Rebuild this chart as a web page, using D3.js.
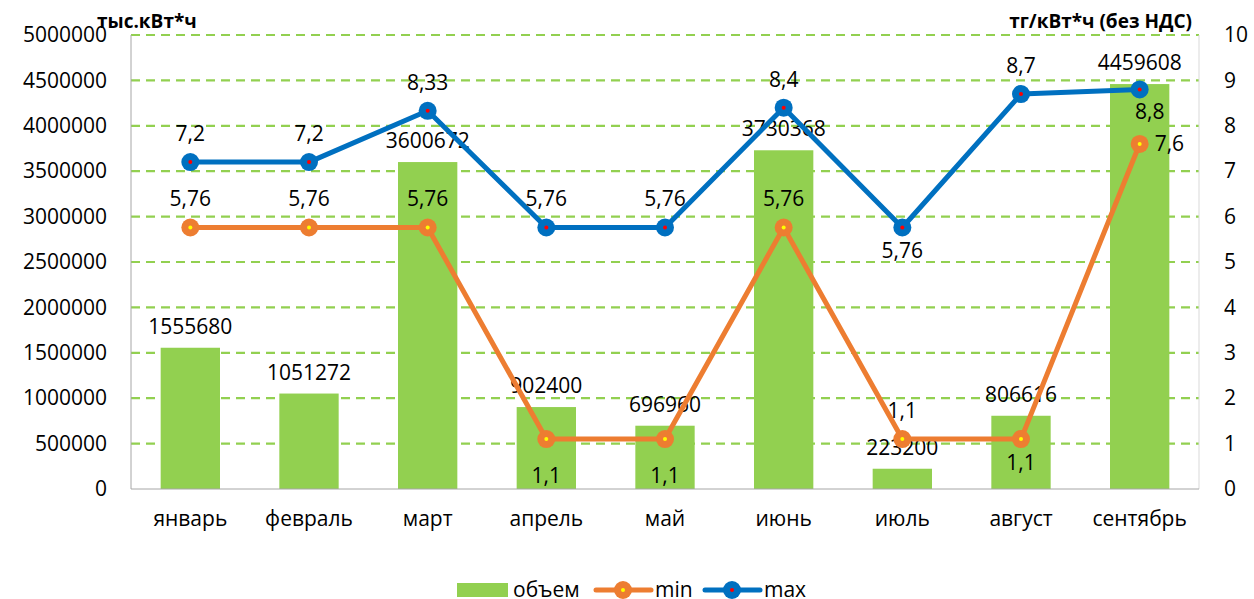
<!DOCTYPE html>
<html>
<head>
<meta charset="utf-8">
<script src="https://cdn.jsdelivr.net/npm/d3@7"></script>
<style>
  body { margin: 0; background: #fff; overflow: hidden; }
  svg { display: block; }
  text { font-family: "Open Sans", sans-serif; fill: #000; }
</style>
</head>
<body>
<div id="chart"></div>
<script>
const months = ["январь", "февраль", "март", "апрель", "май", "июнь", "июль", "август", "сентябрь"];
const volume = [1555680, 1051272, 3600672, 902400, 696960, 3730368, 223200, 806616, 4459608];
const minPrice = [5.76, 5.76, 5.76, 1.1, 1.1, 5.76, 1.1, 1.1, 7.6];
const maxPrice = [7.2, 7.2, 8.33, 5.76, 5.76, 8.4, 5.76, 8.7, 8.8];
// where each point label sits relative to its point
const minLabelPos = ["top", "top", "top", "bottomFar", "bottomFar", "top", "top", "bottom", "right"];
const maxLabelPos = ["top", "top", "top", "top", "top", "top", "bottom", "top", "bottomRight"];
const leftTicks = d3.range(0, 5000001, 500000);
const rightTicks = d3.range(0, 11, 1);

const width = 1254, height = 599;
const margin = {top: 35, right: 55, bottom: 110, left: 131};
const innerWidth = width - margin.left - margin.right;
const innerHeight = height - margin.top - margin.bottom;
const fontSize = "21px";

const svg = d3.select("#chart").append("svg")
  .attr("width", width)
  .attr("height", height);

const g = svg.append("g").attr("transform", `translate(${margin.left},${margin.top})`);

const xScale = d3.scaleBand().domain(months).range([0, innerWidth]).paddingInner(0.5).paddingOuter(0.25);
const yLeft = d3.scaleLinear().domain([0, 5000000]).range([innerHeight, 0]);
const yRight = d3.scaleLinear().domain([0, 10]).range([innerHeight, 0]);
const cx = m => xScale(m) + xScale.bandwidth() / 2;
const fmt = v => String(v).replace(".", ",");

// gridlines
g.selectAll(".grid").data(leftTicks.slice(1))
  .enter().append("line")
  .attr("x1", 0).attr("x2", innerWidth)
  .attr("y1", d => yLeft(d)).attr("y2", d => yLeft(d))
  .attr("stroke", "#92D050").attr("stroke-width", 2.2)
  .attr("stroke-dasharray", "9,6");

// bars
g.selectAll(".bar").data(volume)
  .enter().append("rect")
  .attr("x", (d, i) => xScale(months[i]))
  .attr("y", d => yLeft(d))
  .attr("width", xScale.bandwidth())
  .attr("height", d => innerHeight - yLeft(d))
  .attr("fill", "#92D050");

// axes frame
g.append("line").attr("x1", 0).attr("x2", 0).attr("y1", 0).attr("y2", innerHeight).attr("stroke", "#a6a6a6");
g.append("line").attr("x1", innerWidth).attr("x2", innerWidth).attr("y1", 0).attr("y2", innerHeight).attr("stroke", "#d9d9d9");
g.append("line").attr("x1", 0).attr("x2", innerWidth).attr("y1", innerHeight).attr("y2", innerHeight).attr("stroke", "#a6a6a6");

const styleAxis = sel => {
  sel.select(".domain").remove();
  sel.selectAll("text").style("font-size", fontSize).style("font-family", "'Open Sans', sans-serif");
};

const yAxisL = d3.axisLeft(yLeft).tickValues(leftTicks).tickSize(0).tickPadding(24).tickFormat(d => d);
g.append("g").call(yAxisL).call(styleAxis);

const yAxisR = d3.axisRight(yRight).tickValues(rightTicks).tickSize(0).tickPadding(25);
g.append("g").attr("transform", `translate(${innerWidth},0)`).call(yAxisR).call(styleAxis);

const xAxis = d3.axisBottom(xScale).tickSize(0).tickPadding(22);
g.append("g").attr("transform", `translate(0,${innerHeight})`).call(xAxis).call(styleAxis);

// bar labels
g.selectAll(".barLabel").data(volume)
  .enter().append("text")
  .attr("x", (d, i) => cx(months[i]))
  .attr("y", d => yLeft(d) - 14)
  .attr("text-anchor", "middle")
  .style("font-size", fontSize)
  .text(d => d);

// lines
const drawSeries = (values, color, dot, positions) => {
  const line = d3.line().x((d, i) => cx(months[i])).y(d => yRight(d));
  g.append("path").datum(values)
    .attr("d", line)
    .attr("fill", "none")
    .attr("stroke", color)
    .attr("stroke-width", 5)
    .attr("stroke-linejoin", "round");
  g.selectAll(null).data(values).enter().append("circle")
    .attr("cx", (d, i) => cx(months[i])).attr("cy", d => yRight(d))
    .attr("r", 9).attr("fill", color);
  g.selectAll(null).data(values).enter().append("circle")
    .attr("cx", (d, i) => cx(months[i])).attr("cy", d => yRight(d))
    .attr("r", 2).attr("fill", dot);
  g.selectAll(null).data(values).enter().append("text")
    .attr("x", (d, i) => {
      const x = cx(months[i]);
      if (positions[i] === "right") return x + 15;
      if (positions[i] === "bottomRight") return x + 10;
      return x;
    })
    .attr("y", (d, i) => {
      const y = yRight(d);
      if (positions[i] === "top") return y - 21;
      if (positions[i] === "bottom") return y + 31;
      if (positions[i] === "bottomRight") return y + 30;
      if (positions[i] === "bottomFar") return y + 44;
      return y + 7;
    })
    .attr("text-anchor", (d, i) => positions[i] === "right" ? "start" : "middle")
    .style("font-size", fontSize)
    .text(d => fmt(d));
};
drawSeries(minPrice, "#ED7D31", "#FFFF00", minLabelPos);
drawSeries(maxPrice, "#0070C0", "#FF0000", maxLabelPos);

// axis titles
svg.append("text").attr("x", 97).attr("y", 28)
  .style("font-size", "19px").style("font-weight", "bold").text("тыс.кВт*ч");
svg.append("text").attr("x", 1192).attr("y", 28).attr("text-anchor", "end")
  .style("font-size", "19px").style("font-weight", "bold").text("тг/кВт*ч (без НДС)");

// legend
const lg = svg.append("g").attr("transform", "translate(0,590)");
lg.append("rect").attr("x", 457).attr("y", -7).attr("width", 51).attr("height", 14).attr("fill", "#92D050");
lg.append("text").attr("x", 513).attr("y", 7).style("font-size", fontSize).text("объем");
[["min", "#ED7D31", "#FFFF00", 596], ["max", "#0070C0", "#FF0000", 705]].forEach(([name, color, dot, x0]) => {
  lg.append("line").attr("x1", x0).attr("x2", x0 + 55).attr("y1", 0).attr("y2", 0)
    .attr("stroke", color).attr("stroke-width", 5).attr("stroke-linecap", "round");
  lg.append("circle").attr("cx", x0 + 27).attr("cy", 0).attr("r", 9).attr("fill", color);
  lg.append("circle").attr("cx", x0 + 27).attr("cy", 0).attr("r", 2).attr("fill", dot);
  lg.append("text").attr("x", x0 + 59).attr("y", 7).style("font-size", fontSize).text(name);
});
</script>
</body>
</html>
